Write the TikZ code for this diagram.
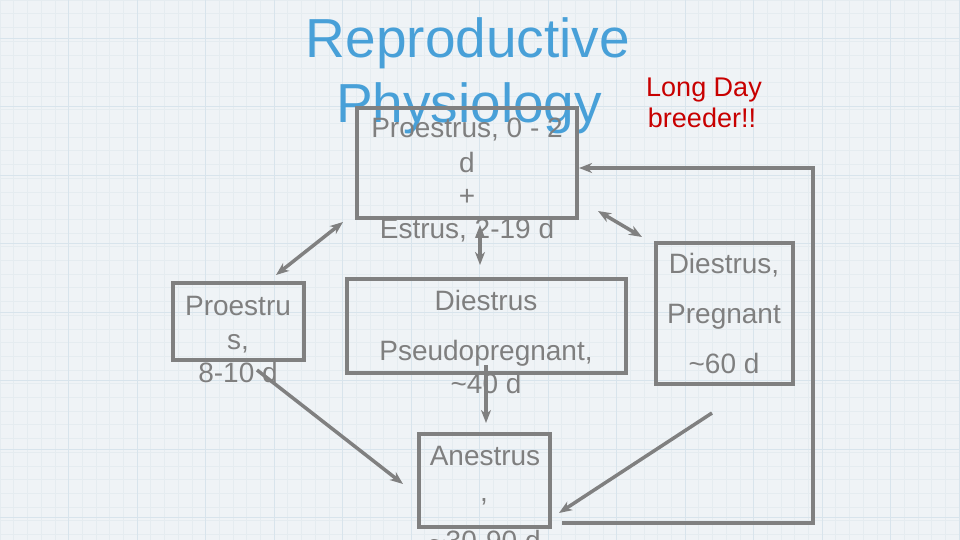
\documentclass[tikz,border=0pt]{standalone}
\usepackage{fontspec}
\setmainfont{Liberation Sans}
\usetikzlibrary{arrows.meta}
\definecolor{bgc}{HTML}{EFF3F6}
\definecolor{gridminor}{HTML}{E5ECF0}
\definecolor{gridmajor}{HTML}{D8E4EC}
\definecolor{boxgray}{HTML}{808080}
\definecolor{txtgray}{HTML}{7F7F7F}
\definecolor{titleblue}{HTML}{48A0D8}
\definecolor{notered}{HTML}{C80000}
\tikzset{
  box/.style={draw=boxgray, line width=4pt, inner sep=0pt},
  ln/.style={anchor=base, inner sep=0pt, text=txtgray, font=\fontsize{28}{33}\selectfont},
  conn/.style={draw=boxgray, line width=3.5pt},
  tip/.tip={Stealth[length=13pt,width=10pt,inset=4pt]},
}
\begin{document}
\begin{tikzpicture}[x=1pt,y=-1pt]
\useasboundingbox (0,0) rectangle (960,540);
\clip (0,0) rectangle (960,540);
\fill[bgc] (0,0) rectangle (960,540);
\foreach \i in {0,13.7,...,960} \draw[gridminor, line width=0.5pt] (\i,0) -- (\i,540);
\foreach \i in {0,13.7,...,540} \draw[gridminor, line width=0.5pt] (0,\i) -- (960,\i);
\foreach \i in {68.5,137,...,960} \draw[gridmajor, line width=0.9pt] (\i,0) -- (\i,540);
\foreach \i in {38,106.5,...,540} \draw[gridmajor, line width=0.9pt] (0,\i) -- (960,\i);

% title
\node[anchor=base, inner sep=0pt, text=titleblue, font=\fontsize{55}{66}\selectfont] (t1) at (468,58) {Reproductive};
\node[anchor=base, inner sep=0pt, text=titleblue, font=\fontsize{55}{66}\selectfont] (t2) at (469,123) {Physiology};

% note
\node[anchor=base, inner sep=0pt, text=notered, font=\fontsize{27}{31}\selectfont] (n1) at (704,97) {Long Day};
\node[anchor=base, inner sep=0pt, text=notered, font=\fontsize{27}{31}\selectfont] (n2) at (702,128) {breeder!!};

% boxes
\node[box, minimum width=220pt, minimum height=110pt] (estrus) at (467,163) {};
\node[box, minimum width=131pt, minimum height=77pt] (pro) at (238.5,321.5) {};
\node[box, minimum width=279pt, minimum height=94pt] (pseudo) at (486.5,326) {};
\node[box, minimum width=137pt, minimum height=141pt] (preg) at (724.5,313.5) {};
\node[box, minimum width=131pt, minimum height=93pt] (anes) at (484.5,480.5) {};

% box texts
\node[ln] (e1) at (467,138) {Proestrus, 0 - 2};
\node[ln] (e2) at (467,172) {d};
\node[ln] (e3) at (467,205) {+};
\node[ln] (e4) at (467,238) {Estrus, 2-19 d};

\node[ln] (p1) at (238,315) {Proestru};
\node[ln] (p2) at (238,349) {s,};
\node[ln] (p3) at (238,382) {8-10 d};

\node[ln] (d1) at (486,310) {Diestrus};
\node[ln] (d2) at (486,360) {Pseudopregnant,};
\node[ln] (d3) at (486,393) {\textasciitilde 40 d};

\node[ln] (g1) at (724,273) {Diestrus,};
\node[ln] (g2) at (724,323) {Pregnant};
\node[ln] (g3) at (724,373) {\textasciitilde 60 d};

\node[ln] (a1) at (485,465) {Anestrus};
\node[ln] (a2) at (484,501) {,};
\node[ln] (a3) at (485,550) {\textasciitilde 30-90 d};

% connector end points
\coordinate (c1a) at (276,275);
\coordinate (c1b) at (343,222);
\coordinate (c2a) at (480,225);
\coordinate (c2b) at (480,265);
\coordinate (c3a) at (598,211);
\coordinate (c3b) at (642,237);
\coordinate (c4a) at (257,370);
\coordinate (c4b) at (403,484);
\coordinate (c5a) at (486,365);
\coordinate (c5b) at (486,423);
\coordinate (c6a) at (712,413);
\coordinate (c6b) at (559,513);
\coordinate (l1) at (562,523);
\coordinate (l2) at (813,523);
\coordinate (l3) at (813,168);

% connectors
\draw[conn, {tip}-{tip}] (c1a) -- (c1b);
\draw[conn, {tip}-{tip}] (c2a) -- (c2b);
\draw[conn, {tip}-{tip}] (c3a) -- (c3b);
\draw[conn, -{tip}] (c4a) -- (c4b);
\draw[conn, -{tip}] (c5a) -- (c5b);
\draw[conn, -{tip}] (c6a) -- (c6b);
\draw[conn, -{tip}] (l1) -- (l2) -- (l3) -- (estrus.east |- l3);
\end{tikzpicture}
\end{document}
